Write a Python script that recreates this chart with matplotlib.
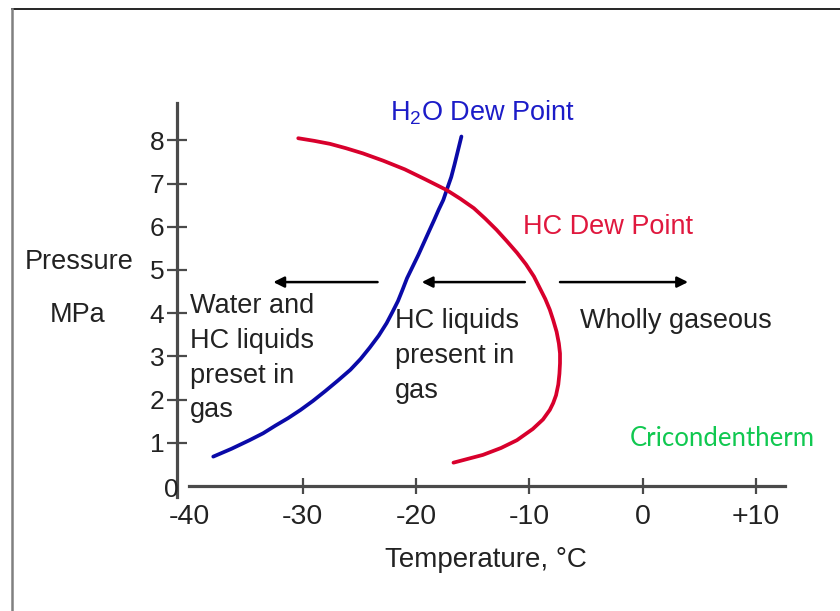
import matplotlib
matplotlib.use('Agg')
import matplotlib.pyplot as plt
from matplotlib.lines import Line2D

plt.rcParams['font.family'] = 'Liberation Sans'
plt.rcParams['mathtext.fontset'] = 'custom'
plt.rcParams['mathtext.rm'] = 'Liberation Sans'

# Phase envelope (temperature °C, pressure MPa)
h2o_temp = [-37.9, -36.3, -34.7, -33.5, -32.4, -31.3, -30.2, -29.1, -28.0, -26.9,
            -25.8, -24.9, -24.1, -23.3, -22.6, -22.1, -21.6, -21.2, -20.8, -20.3,
            -19.8, -19.3, -18.8, -18.4, -18.0, -17.6, -17.3, -16.9, -16.6, -16.3, -16.0]
h2o_pres = [0.68, 0.86, 1.06, 1.22, 1.40, 1.57, 1.76, 1.97, 2.20, 2.44,
            2.69, 2.94, 3.20, 3.48, 3.77, 4.02, 4.28, 4.54, 4.81, 5.08,
            5.35, 5.64, 5.93, 6.16, 6.40, 6.62, 6.85, 7.15, 7.45, 7.77, 8.09]

hc_temp = [-30.4, -29.0, -27.6, -26.2, -24.7, -22.9, -21.0, -19.2, -17.3, -16.1,
           -14.9, -13.9, -12.9, -12.0, -11.1, -10.3, -9.6, -9.1, -8.6, -8.2,
           -7.9, -7.6, -7.4, -7.3, -7.3, -7.35, -7.45, -7.65, -7.9, -8.2,
           -8.8, -9.7, -11.1, -12.5, -14.1, -15.4, -16.7]
hc_pres = [8.05, 7.99, 7.92, 7.82, 7.70, 7.53, 7.33, 7.10, 6.85, 6.65,
           6.43, 6.19, 5.93, 5.67, 5.40, 5.13, 4.85, 4.59, 4.33, 4.08,
           3.84, 3.57, 3.30, 3.07, 2.84, 2.60, 2.35, 2.10, 1.92, 1.76,
           1.54, 1.32, 1.06, 0.88, 0.72, 0.63, 0.54]

x_ticks = [-40, -30, -20, -10, 0, 10]
x_labels = ['-40', '-30', '-20', '-10', '0', '+10']
y_ticks = [1, 2, 3, 4, 5, 6, 7, 8]

fig = plt.figure(figsize=(8.4, 6.11), dpi=100)
ax = fig.add_axes([0, 0, 1, 1])
ax.set_xlim(-56.72, 17.41)
ax.set_ylim(-2.894, 11.25)
ax.patch.set_alpha(0)

# axes drawn as crossing lines
axis_col = '#4a4a4a'
for s in ['top', 'right']:
    ax.spines[s].set_visible(False)
ax.spines['left'].set_position(('data', -41.1))
ax.spines['left'].set_bounds(-0.25, 8.87)
ax.spines['bottom'].set_position(('data', 0))
ax.spines['bottom'].set_bounds(-40.0, 12.56)
for s in ['left', 'bottom']:
    ax.spines[s].set_color(axis_col)
    ax.spines[s].set_linewidth(2.3)

ax.set_xticks(x_ticks)
ax.set_xticklabels(x_labels)
ax.set_yticks(y_ticks)
ax.tick_params(axis='x', direction='inout', length=12, width=1.6, color=axis_col,
               labelsize=20.5, pad=7)
ax.tick_params(axis='y', direction='inout', length=14, width=1.6, color=axis_col,
               labelsize=19, pad=2)
ax.xaxis.get_major_ticks()[0].tick1line.set_visible(False)
ax.text(-41.6, -0.1, '0', fontsize=19, ha='center', va='center', color='#222222')
for lab in ax.get_xticklabels() + ax.get_yticklabels():
    lab.set_color('#222222')

ax.plot(h2o_temp, h2o_pres, color='#0a0aa8', lw=2.7, solid_capstyle='round')
ax.plot(hc_temp, hc_pres, color='#d8002c', lw=2.7, solid_capstyle='round')

# region arrows
arr = dict(arrowstyle='-|>', color='black', lw=1.8, mutation_scale=16,
           shrinkA=0, shrinkB=0)
ax.annotate('', xy=(-32.6, 4.72), xytext=(-23.4, 4.72), arrowprops=arr)
ax.annotate('', xy=(-19.5, 4.72), xytext=(-10.4, 4.72), arrowprops=arr)
ax.annotate('', xy=(4.0, 4.72), xytext=(-7.3, 4.72), arrowprops=arr)

ax.text(-22.3, 8.47, r'H$_2$O Dew Point', color='#1c1cc8', fontsize=19.5, va='baseline')
ax.text(-10.59, 5.83, 'HC Dew Point', color='#e0183e', fontsize=19.5, va='baseline')
ax.text(-5.53, 3.65, 'Wholly gaseous', color='#222222', fontsize=19.5, va='baseline')
ax.text(-1.12, 0.93, 'Cricondentherm', color='#10c850', fontsize=18.5,
        family='Lato', va='baseline')

step = 0.803
for i, line in enumerate(['Water and', 'HC liquids', 'preset in', 'gas']):
    ax.text(-39.94, 4.0 - i * step, line, color='#222222', fontsize=19.5, va='baseline')
for i, line in enumerate(['HC liquids', 'present in', 'gas']):
    ax.text(-21.86, 3.65 - i * step, line, color='#222222', fontsize=19.5, va='baseline')

ax.text(-54.5, 5.02, 'Pressure', color='#222222', fontsize=19.5, va='baseline')
ax.text(-52.3, 3.80, 'MPa', color='#222222', fontsize=19.5, va='baseline')
ax.text(-22.74, -1.87, 'Temperature, °C', color='#222222', fontsize=20, va='baseline')

# picture frame
fig.add_artist(Line2D([0.0137, 1.0], [0.9845, 0.9845], transform=fig.transFigure,
                      color='black', lw=1.2))
fig.add_artist(Line2D([0.0137, 0.0137], [0.0, 0.9845], transform=fig.transFigure,
                      color='#808080', lw=1.8))

fig.savefig('out.png', dpi=100)
